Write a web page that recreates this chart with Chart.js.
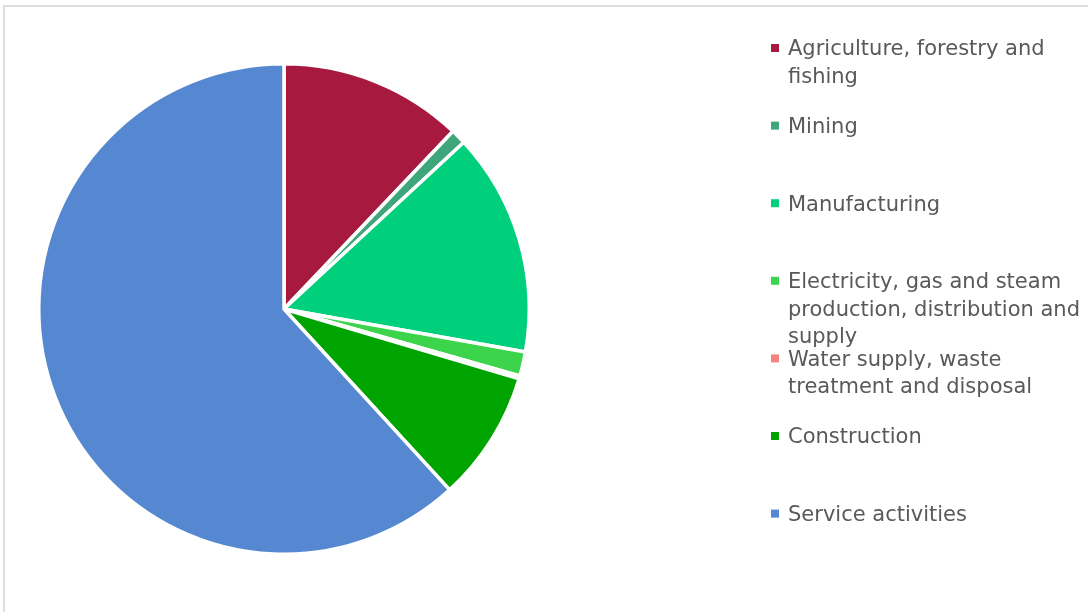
<!DOCTYPE html>
<html lang="en">
<head>
    <meta charset="UTF-8">
    <title>Economic activity shares</title>
    <script src="https://cdn.jsdelivr.net/npm/chart.js"></script>
    <style>
        body {
            margin: 0;
            padding: 0;
            background: #fff;
            overflow: hidden;
        }

        .frame {
            position: absolute;
            left: 3px;
            top: 5px;
            width: 2000px;
            height: 2000px;
            border-top: 2px solid #dedede;
            border-left: 2px solid #dedede;
        }

        .chart-box {
            position: absolute;
            left: 0;
            top: 0;
            width: 1088px;
            height: 612px;
        }
    </style>
</head>
<body>
    <div class="frame"></div>
    <div class="chart-box">
        <canvas id="pieChart" width="1088" height="612"></canvas>
    </div>

    <script>
        // sectors, clockwise from 12 o'clock
        const sectors = [
            'Agriculture, forestry and fishing',
            'Mining',
            'Manufacturing',
            'Electricity, gas and steam production, distribution and supply',
            'Water supply, waste treatment and disposal',
            'Construction',
            'Service activities'
        ];
        // share of total (%)
        const shares = [12.1, 1.0, 14.7, 1.6, 0.2, 8.6, 61.8];
        const sectorColors = ['#a8193f', '#3fa57b', '#00cf7b', '#3bd44a', '#f4837d', '#00a400', '#5588d0'];

        // legend on the right, fixed step per entry, long names wrapped
        const sideLegend = {
            id: 'sideLegend',
            afterDraw(chart) {
                const ctx = chart.ctx;
                const ds = chart.data.datasets[0];
                const left = 788, top = 50, step = 77.6, lineH = 27.5, maxW = 296;
                ctx.save();
                ctx.font = '21px "DejaVu Sans"';
                ctx.textBaseline = 'middle';
                chart.data.labels.forEach((label, i) => {
                    const y = top + i * step;
                    ctx.fillStyle = ds.backgroundColor[i];
                    ctx.fillRect(left - 17, y - 6, 8, 8);

                    // simple word wrap
                    const words = label.split(' ');
                    const lines = [];
                    let cur = '';
                    words.forEach(w => {
                        const test = cur ? cur + ' ' + w : w;
                        if (ctx.measureText(test).width > maxW && cur) {
                            lines.push(cur);
                            cur = w;
                        } else {
                            cur = test;
                        }
                    });
                    lines.push(cur);

                    ctx.fillStyle = '#595959';
                    lines.forEach((ln, k) => ctx.fillText(ln, left, y + k * lineH));
                });
                ctx.restore();
            }
        };

        new Chart(document.getElementById('pieChart'), {
            type: 'pie',
            data: {
                labels: sectors,
                datasets: [{
                    data: shares,
                    backgroundColor: sectorColors,
                    borderColor: '#ffffff',
                    borderWidth: 3.5
                }]
            },
            options: {
                responsive: false,
                animation: false,
                layout: {
                    padding: { left: 37, top: 62, right: 557, bottom: 56 }
                },
                plugins: {
                    legend: { display: false },
                    tooltip: { enabled: false }
                }
            },
            plugins: [sideLegend]
        });
    </script>
</body>
</html>
